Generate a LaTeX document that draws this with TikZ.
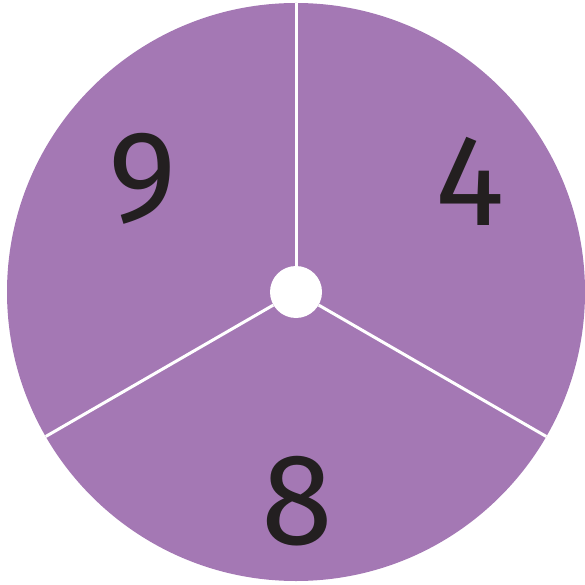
\documentclass[tikz,border=0pt]{standalone}
\usepackage{fontspec}
\setmainfont{Fira Sans}
\usetikzlibrary{calc}
\definecolor{spinpurple}{HTML}{A478B4}
\definecolor{digitink}{HTML}{231F20}

\begin{document}
\begin{tikzpicture}[
    x=1pt, y=1pt,
    disc/.style={fill=spinpurple},
    divider/.style={draw=white, line width=3pt},
    hub/.style={circle, fill=white, minimum size=52pt, inner sep=0pt},
    digit/.style={text=digitink, font=\fontsize{130}{130}\selectfont, inner sep=0pt}
]
    \useasboundingbox (0,0) rectangle (585,584);

    % Spinner disc
    \fill[disc] (296,292) circle (289);

    % Rim points of the three dividers
    \coordinate (rimTop) at ($(296,292)+(90:289)$);
    \coordinate (rimLeft) at ($(296,292)+(210:289)$);
    \coordinate (rimRight) at ($(296,292)+(-30:289)$);

    % Centre hub
    \node[hub] (HUB) at (296,292) {};

    % Dividers
    \draw[divider] (HUB) -- (rimTop);
    \draw[divider] (HUB) -- (rimLeft);
    \draw[divider] (HUB) -- (rimRight);

    % Numbers
    \node[digit] (N9) at (143,405) {9};
    \node[digit] (N4) at (470,403) {4};
    \node[digit] (N8) at (297,83) {8};

\end{tikzpicture}
\end{document}
